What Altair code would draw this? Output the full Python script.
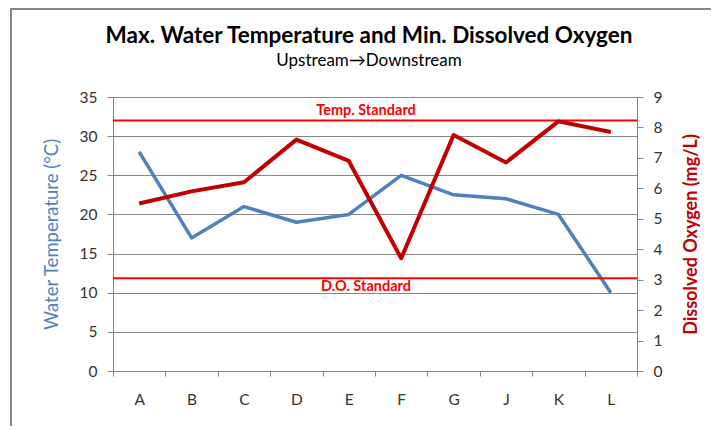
import altair as alt
import pandas as pd

# ---- data ----
sites = ["A", "B", "C", "D", "E", "F", "G", "J", "K", "L"]
max_temp = [28, 17, 21, 19, 20, 25, 22.5, 22, 20, 10]          # °C (left axis)
min_do = [5.5, 5.9, 6.2, 7.6, 6.9, 3.7, 7.75, 6.85, 8.2, 7.85]  # mg/L (right axis)
temp_standard = [32]   # °C
do_standard = [3.05]   # mg/L
temp_ticks = [0, 5, 10, 15, 20, 25, 30, 35]
do_ticks = [0, 1, 2, 3, 4, 5, 6, 7, 8, 9]

df = pd.DataFrame({"site": sites, "temp": max_temp, "do": min_do})
tstd = pd.DataFrame({"v": temp_standard, "label": ["Temp. Standard"]})
dstd = pd.DataFrame({"v": do_standard, "label": ["D.O. Standard"]})

W, H = 524, 274
PAD = {"left": 105, "top": 89, "right": 74, "bottom": 55}
FONT = "Lato"
BLUE = "#4F81BD"
DARKRED = "#C00000"
RED = "#FF0000"
GRAY = "#868686"

x_enc = alt.X(
    "site:N", sort=sites, title=None,
    scale=alt.Scale(type="band", paddingInner=0, paddingOuter=0),
    axis=alt.Axis(tickBand="extent", labelAngle=0, labelPadding=16, tickSize=5,
                  domainColor=GRAY, tickColor=GRAY, grid=False),
)

t_scale = alt.Scale(domain=[0, 35], nice=False, zero=True)
d_scale = alt.Scale(domain=[0, 9], nice=False, zero=True)

t_axis = alt.Axis(orient="left", values=temp_ticks, grid=True, gridColor=GRAY,
                  tickSize=6, labelPadding=10, title="Water Temperature (°C)",
                  titleColor=BLUE, titleFontSize=18.5, titleFontWeight="normal",
                  titlePadding=18)
d_axis = alt.Axis(orient="right", values=do_ticks, grid=False,
                  tickSize=6, labelPadding=10, title="Dissolved Oxygen (mg/L)",
                  titleColor=DARKRED, titleFontSize=18, titleFontWeight="bold",
                  titleAngle=270, titlePadding=39)

temp_line = alt.Chart(df).mark_line(color=BLUE, strokeWidth=3.5, strokeJoin="round").encode(
    x=x_enc,
    y=alt.Y("temp:Q", scale=t_scale, axis=t_axis),
)
temp_rule = alt.Chart(tstd).mark_rule(color=RED, strokeWidth=2).encode(
    y=alt.Y("v:Q", scale=t_scale, axis=t_axis)
)
temp_text = alt.Chart(tstd).mark_text(
    color=RED, font=FONT, fontSize=14.5, fontWeight="bold", baseline="bottom", dy=-2
).encode(
    x=alt.value(W / 2 - 9),
    y=alt.Y("v:Q", scale=t_scale, axis=t_axis),
    text="label:N",
)
temp_layer = alt.layer(temp_rule, temp_text, temp_line)

do_line = alt.Chart(df).mark_line(color=DARKRED, strokeWidth=4, strokeJoin="round").encode(
    x=x_enc,
    y=alt.Y("do:Q", scale=d_scale, axis=d_axis),
)
do_rule = alt.Chart(dstd).mark_rule(color=RED, strokeWidth=2).encode(
    y=alt.Y("v:Q", scale=d_scale, axis=d_axis)
)
do_text = alt.Chart(dstd).mark_text(
    color=RED, font=FONT, fontSize=14.5, fontWeight="bold", baseline="top", dy=2
).encode(
    x=alt.value(W / 2 - 9),
    y=alt.Y("v:Q", scale=d_scale, axis=d_axis),
    text="label:N",
)
do_layer = alt.layer(do_rule, do_text, do_line)

one = pd.DataFrame({"a": [0]})
border_left = alt.Chart(one).mark_rule(color=GRAY, strokeWidth=2).encode(
    x=alt.value(-102), y=alt.value(-PAD["top"]), y2=alt.value(H + PAD["bottom"])
)
border_top = alt.Chart(one).mark_rule(color=GRAY, strokeWidth=2).encode(
    x=alt.value(-102), x2=alt.value(W + PAD["right"]), y=alt.value(-PAD["top"] + 1)
)

chart = (
    alt.layer(temp_layer, do_layer)
    .resolve_scale(y="independent")
)
chart = alt.layer(chart, border_left, border_top).properties(
    width=W, height=H, autosize="none", padding=PAD,
    title=alt.TitleParams(
        text="Max. Water Temperature and Min. Dissolved Oxygen",
        subtitle="Upstream→Downstream",
        font=FONT, fontSize=22.5, fontWeight="bold", color="black",
        subtitleFont=FONT, subtitleFontSize=17, subtitleColor="black",
        subtitleFontWeight="normal",
        anchor="middle", frame="group", dx=-6, offset=0, dy=62, subtitlePadding=6,
    ),
).configure_axis(
    labelFont=FONT, labelFontSize=15.5, labelColor="#333333", titleFont=FONT,
    domainColor=GRAY, tickColor=GRAY,
).configure_view(stroke=None)

chart.save("out.html", embed_options={"renderer": "svg", "actions": False})
